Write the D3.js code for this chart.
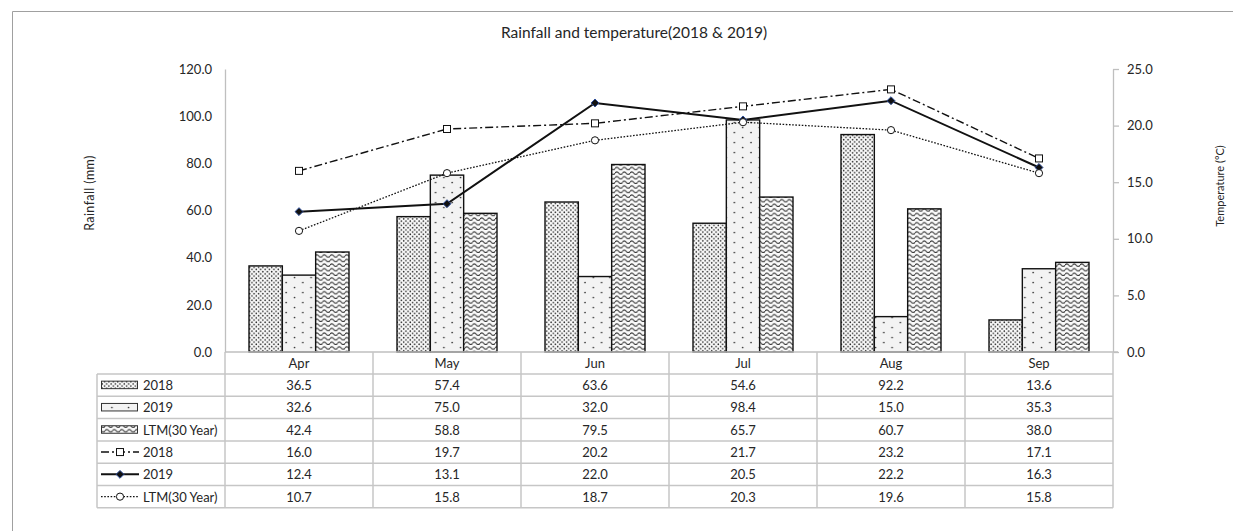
<!DOCTYPE html>
<html>
<head>
<meta charset="utf-8">
<script src="https://cdn.jsdelivr.net/npm/d3@7"></script>
<style>
  html, body { margin: 0; padding: 0; background: #fff; }
  svg { display: block; font-family: Lato, "Open Sans", sans-serif; }
</style>
</head>
<body>
<svg id="chart" width="1233" height="531"></svg>
<script>
// Months on the category axis
const months = ["Apr", "May", "Jun", "Jul", "Aug", "Sep"];

// Rainfall (mm) – bars
const rain2018 = [36.5, 57.4, 63.6, 54.6, 92.2, 13.6];
const rain2019 = [32.6, 75.0, 32.0, 98.4, 15.0, 35.3];
const rainLTM  = [42.4, 58.8, 79.5, 65.7, 60.7, 38.0];

// Temperature (°C) – lines
const temp2018 = [16.0, 19.7, 20.2, 21.7, 23.2, 17.1];
const temp2019 = [12.4, 13.1, 22.0, 20.5, 22.2, 16.3];
const tempLTM  = [10.7, 15.8, 18.7, 20.3, 19.6, 15.8];

// Axis ticks
const rainTicks = [0, 20, 40, 60, 80, 100, 120];
const tempTicks = [0, 5, 10, 15, 20, 25];

const titleText = "Rainfall and temperature(2018 & 2019)";

const barSeries = [
  { name: "2018", values: rain2018, fill: "url(#pat2018)" },
  { name: "2019", values: rain2019, fill: "url(#pat2019)" },
  { name: "LTM(30 Year)", values: rainLTM, fill: "url(#patLTM)" }
];
const lineSeries = [
  { name: "2018", values: temp2018, dash: "8,3,2,3", width: 1.4, marker: "square" },
  { name: "2019", values: temp2019, dash: null, width: 2, marker: "diamond" },
  { name: "LTM(30 Year)", values: tempLTM, dash: "1.6,1.6", width: 1.3, marker: "circle" }
];

const svg = d3.select("#chart");
const ink = "#262626";
const gridCol = "#c6c6c6";

// ---- patterns ----
const defs = svg.append("defs");
const p1 = defs.append("pattern").attr("id", "pat2018").attr("patternUnits", "userSpaceOnUse")
  .attr("width", 4.4).attr("height", 4.4);
p1.append("rect").attr("width", 4.4).attr("height", 4.4).attr("fill", "#fafafa");
p1.append("circle").attr("cx", 1.1).attr("cy", 1.1).attr("r", 0.8).attr("fill", "#2a2a2a");
p1.append("circle").attr("cx", 3.3).attr("cy", 3.3).attr("r", 0.8).attr("fill", "#2a2a2a");

const p2 = defs.append("pattern").attr("id", "pat2019").attr("patternUnits", "userSpaceOnUse")
  .attr("width", 16.6).attr("height", 10);
p2.append("rect").attr("width", 16.6).attr("height", 10).attr("fill", "#f3f3f3");
p2.append("circle").attr("cx", 4).attr("cy", 2.5).attr("r", 0.85).attr("fill", "#333");
p2.append("circle").attr("cx", 12.3).attr("cy", 7.5).attr("r", 0.85).attr("fill", "#333");

const p3 = defs.append("pattern").attr("id", "patLTM").attr("patternUnits", "userSpaceOnUse")
  .attr("width", 7.5).attr("height", 4.6);
p3.append("rect").attr("width", 7.5).attr("height", 4.6).attr("fill", "#fafafa");
p3.append("path").attr("d", "M0,3 Q1.875,0.4 3.75,3 T7.5,3")
  .attr("fill", "none").attr("stroke", "#333").attr("stroke-width", 1.1);

// ---- outer frame ----
svg.append("path").attr("d", "M12.5,531 L12.5,11.5 L1240,11.5")
  .attr("fill", "none").attr("stroke", "#a0a0a0").attr("stroke-width", 1);

// ---- scales ----
const plotL = 225, plotR = 1113, plotT = 69, plotB = 352;
const x = d3.scaleBand().domain(months).range([plotL, plotR]).paddingInner(0).paddingOuter(0);
const xs = d3.scaleBand().domain(barSeries.map((d, i) => i)).range([24, x.bandwidth() - 24]).padding(0);
const yRain = d3.scaleLinear().domain([0, 120]).range([plotB, plotT]);
const yTemp = d3.scaleLinear().domain([0, 25]).range([plotB, plotT]);

// ---- title ----
svg.append("text").attr("x", 634).attr("y", 38).attr("text-anchor", "middle")
  .attr("font-size", 15.5).attr("fill", ink).text(titleText);

// ---- left axis ----
const gL = svg.append("g").attr("transform", `translate(${plotL},0)`)
  .call(d3.axisLeft(yRain).tickValues(rainTicks).tickFormat(d3.format(".1f")).tickSize(0).tickPadding(13));
gL.select(".domain").attr("stroke", "#bfbfbf").attr("stroke-width", 1.3);
gL.selectAll("text").attr("font-size", 13).attr("fill", ink).attr("font-family", "Lato, sans-serif");

// ---- right axis ----
const gR = svg.append("g").attr("transform", `translate(${plotR},0)`)
  .call(d3.axisRight(yTemp).tickValues(tempTicks).tickFormat(d3.format(".1f")).tickSize(6).tickPadding(8).tickSizeOuter(0));
gR.select(".domain").attr("stroke", "#bfbfbf").attr("stroke-width", 1.3);
gR.selectAll(".tick line").attr("stroke", "#bfbfbf").attr("stroke-width", 1.3);
gR.selectAll("text").attr("font-size", 13).attr("fill", ink).attr("font-family", "Lato, sans-serif");

// axis titles
svg.append("text").attr("transform", "translate(94,193) rotate(-90)").attr("text-anchor", "middle")
  .attr("font-size", 12.5).attr("letter-spacing", 0.4).attr("fill", ink).text("Rainfall (mm)");
svg.append("text").attr("transform", "translate(1224,186) rotate(-90)").attr("text-anchor", "middle")
  .attr("font-size", 11).attr("fill", ink).text("Temperature (°C)");

// ---- bars ----
barSeries.forEach((s, si) => {
  svg.append("g").selectAll("rect").data(s.values).join("rect")
    .attr("x", (d, i) => x(months[i]) + xs(si))
    .attr("y", d => yRain(d))
    .attr("width", xs.bandwidth())
    .attr("height", d => plotB - yRain(d))
    .attr("fill", s.fill)
    .attr("stroke", "#111").attr("stroke-width", 1.4);
});

// ---- data table ----
const rowTop = 374, rowH = 22.3, tableL = 97;
const rows = barSeries.concat(lineSeries);
const tbl = svg.append("g");
// horizontal rules
tbl.append("line").attr("x1", plotL).attr("x2", plotR + 5).attr("y1", plotB).attr("y2", plotB)
  .attr("stroke", "#bfbfbf").attr("stroke-width", 1.5);
d3.range(rows.length + 1).forEach(r => {
  tbl.append("line").attr("x1", tableL).attr("x2", plotR)
    .attr("y1", rowTop + r * rowH).attr("y2", rowTop + r * rowH)
    .attr("stroke", gridCol).attr("stroke-width", 1.5);
});
// vertical rules
const tableB = rowTop + rows.length * rowH;
tbl.append("line").attr("x1", tableL).attr("x2", tableL).attr("y1", rowTop).attr("y2", tableB)
  .attr("stroke", gridCol).attr("stroke-width", 1.5);
months.concat([null]).forEach((m, i) => {
  const xx = m ? x(m) : plotR;
  tbl.append("line").attr("x1", xx).attr("x2", xx).attr("y1", plotB).attr("y2", tableB)
    .attr("stroke", gridCol).attr("stroke-width", 1.5);
});
// month labels
months.forEach(m => {
  tbl.append("text").attr("x", x(m) + x.bandwidth() / 2).attr("y", plotB + rowH / 2 + 5)
    .attr("text-anchor", "middle").attr("font-size", 13).attr("fill", ink).text(m);
});
// values
rows.forEach((s, r) => {
  s.values.forEach((v, i) => {
    tbl.append("text").attr("x", x(months[i]) + x.bandwidth() / 2)
      .attr("y", rowTop + r * rowH + rowH / 2 + 5)
      .attr("text-anchor", "middle").attr("font-size", 13).attr("fill", ink).text(v.toFixed(1));
  });
  const cy = rowTop + r * rowH + rowH / 2;
  // legend keys
  if (r < barSeries.length) {
    tbl.append("rect").attr("x", 101.5).attr("y", cy - 4).attr("width", 36).attr("height", 7.5)
      .attr("fill", s.fill).attr("stroke", "#333").attr("stroke-width", 1);
  } else {
    tbl.append("line").attr("x1", 101).attr("x2", 139).attr("y1", cy).attr("y2", cy)
      .attr("stroke", "#111").attr("stroke-width", s.width).attr("stroke-dasharray", s.dash);
    drawMarker(tbl, s.marker, 120, cy);
  }
  tbl.append("text").attr("x", 143).attr("y", cy + 5).attr("font-size", 13).attr("fill", ink).text(s.name);
});

// ---- temperature lines ----
function drawMarker(g, type, cx, cy) {
  if (type === "square") {
    g.append("rect").attr("x", cx - 3.5).attr("y", cy - 3.5).attr("width", 7).attr("height", 7)
      .attr("fill", "#fff").attr("stroke", "#111").attr("stroke-width", 1);
  } else if (type === "diamond") {
    g.append("path").attr("d", d3.symbol(d3.symbolDiamond2, 40)()).attr("transform", `translate(${cx},${cy})`)
      .attr("fill", "#111").attr("stroke", "#2f4f9a").attr("stroke-width", 1);
  } else {
    g.append("circle").attr("cx", cx).attr("cy", cy).attr("r", 3.6)
      .attr("fill", "#fff").attr("stroke", "#111").attr("stroke-width", 1);
  }
}
const line = d3.line().x((d, i) => x(months[i]) + x.bandwidth() / 2).y(d => yTemp(d));
lineSeries.forEach(s => {
  const g = svg.append("g");
  g.append("path").attr("d", line(s.values)).attr("fill", "none")
    .attr("stroke", "#111").attr("stroke-width", s.width).attr("stroke-dasharray", s.dash);
  s.values.forEach((v, i) => drawMarker(g, s.marker, x(months[i]) + x.bandwidth() / 2, yTemp(v)));
});
</script>
</body>
</html>
